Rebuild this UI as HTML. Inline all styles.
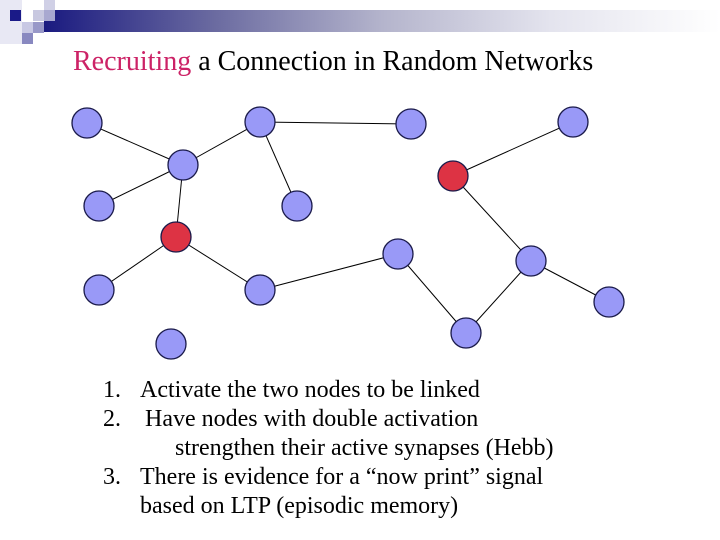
<!DOCTYPE html>
<html><head><style>
body{margin:0;width:720px;height:540px;background:#fff;overflow:hidden;position:relative;font-family:"Liberation Serif",serif}
.sq{position:absolute}
.l{position:absolute;white-space:nowrap;font-size:24px}
</style></head><body>
<div class="sq" style="left:0;top:0;width:22px;height:44px;background:#e8e8f4"></div>
<div class="sq" style="left:44px;top:10px;width:676px;height:22px;background:linear-gradient(90deg,#1a1a80 0%,#6a6aa0 25%,#b4b4cc 50%,#e4e4ee 75%,#fff 100%)"></div>
<div class="sq" style="left:10px;top:10px;width:11px;height:11px;background:#1a1a88"></div>
<div class="sq" style="left:33px;top:10px;width:11px;height:11px;background:#c8c8e0"></div>
<div class="sq" style="left:44px;top:0;width:11px;height:10px;background:#d0d0e6"></div>
<div class="sq" style="left:44px;top:10px;width:11px;height:11px;background:#a8a8d0"></div>
<div class="sq" style="left:22px;top:22px;width:11px;height:11px;background:#c8c8e4"></div>
<div class="sq" style="left:33px;top:22px;width:11px;height:11px;background:#9898c8"></div>
<div class="sq" style="left:22px;top:33px;width:11px;height:11px;background:#8888c0"></div>
<div style="position:absolute;left:73px;top:46px;font-size:28px;color:#000;white-space:nowrap"><span style="color:#cc2266">Recruiting</span> a Connection in Random Networks</div>
<svg width="720" height="540" style="position:absolute;left:0;top:0">
<g stroke="#000" stroke-width="1">
<line x1="87" y1="123" x2="183" y2="165"/><line x1="183" y1="165" x2="260" y2="122"/>
<line x1="183" y1="165" x2="99" y2="206"/><line x1="183" y1="165" x2="176" y2="237"/>
<line x1="260" y1="122" x2="297" y2="206"/><line x1="260" y1="122" x2="411" y2="124"/>
<line x1="176" y1="237" x2="99" y2="290"/><line x1="176" y1="237" x2="260" y2="290"/>
<line x1="260" y1="290" x2="398" y2="254"/><line x1="453" y1="176" x2="573" y2="122"/>
<line x1="453" y1="176" x2="531" y2="261"/><line x1="531" y1="261" x2="609" y2="302"/>
<line x1="531" y1="261" x2="466" y2="333"/><line x1="398" y1="254" x2="466" y2="333"/>
</g>
<g fill="#9999f7" stroke="#1a1a4a" stroke-width="1.3">
<circle cx="87" cy="123" r="15"/><circle cx="183" cy="165" r="15"/><circle cx="260" cy="122" r="15"/>
<circle cx="99" cy="206" r="15"/><circle cx="297" cy="206" r="15"/><circle cx="99" cy="290" r="15"/>
<circle cx="260" cy="290" r="15"/><circle cx="171" cy="344" r="15"/><circle cx="411" cy="124" r="15"/>
<circle cx="573" cy="122" r="15"/><circle cx="398" cy="254" r="15"/><circle cx="531" cy="261" r="15"/>
<circle cx="609" cy="302" r="15"/><circle cx="466" cy="333" r="15"/>
</g>
<g fill="#dd3344" stroke="#1a1a4a" stroke-width="1.3">
<circle cx="176" cy="237" r="15"/><circle cx="453" cy="176" r="15"/>
</g>
</svg>
<div class="l" style="left:103px;top:377px">1.</div><div class="l" style="left:140px;top:377px">Activate the two nodes to be linked</div>
<div class="l" style="left:103px;top:406px">2.</div><div class="l" style="left:145px;top:406px">Have nodes with double activation</div>
<div class="l" style="left:175px;top:435px">strengthen their active synapses (Hebb)</div>
<div class="l" style="left:103px;top:464px">3.</div><div class="l" style="left:140px;top:464px">There is evidence for a “now print” signal</div>
<div class="l" style="left:140px;top:493px">based on LTP (episodic memory)</div>
</body></html>
